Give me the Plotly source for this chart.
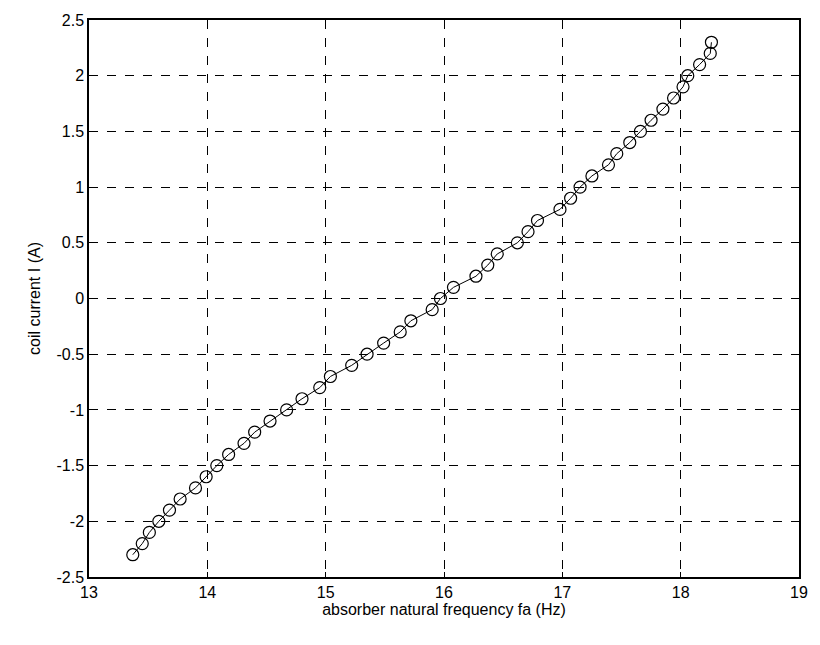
import plotly.graph_objects as go

coil_current = [-2.3, -2.2, -2.1, -2.0, -1.9, -1.8, -1.7, -1.6, -1.5, -1.4, -1.3, -1.2,
                -1.1, -1.0, -0.9, -0.8, -0.7, -0.6, -0.5, -0.4, -0.3, -0.2, -0.1, 0.0,
                0.1, 0.2, 0.3, 0.4, 0.5, 0.6, 0.7, 0.8, 0.9, 1.0, 1.1, 1.2, 1.3, 1.4,
                1.5, 1.6, 1.7, 1.8, 1.9, 2.0, 2.1, 2.2, 2.3]
frequency = [13.37, 13.45, 13.51, 13.59, 13.68, 13.77, 13.90, 13.99, 14.08, 14.18, 14.31, 14.40,
             14.53, 14.67, 14.80, 14.95, 15.04, 15.22, 15.35, 15.49, 15.63, 15.72, 15.90, 15.97,
             16.08, 16.27, 16.37, 16.45, 16.62, 16.71, 16.79, 16.98, 17.07, 17.15, 17.25, 17.39, 17.46, 17.57,
             17.66, 17.75, 17.85, 17.94, 18.02, 18.06, 18.16, 18.25, 18.26]

x_ticks = [13, 14, 15, 16, 17, 18, 19]
y_ticks = [-2.5, -2, -1.5, -1, -0.5, 0, 0.5, 1, 1.5, 2, 2.5]
y_ticklabels = ["-2.5", "-2", "-1.5", "-1", "-0.5", "0", "0.5", "1", "1.5", "2", "2.5"]

fig = go.Figure()
fig.add_trace(go.Scatter(
    x=frequency, y=coil_current, mode="lines+markers",
    line=dict(color="black", width=1),
    marker=dict(symbol="circle-open", size=12, color="black", line=dict(width=1.2)),
    showlegend=False,
))

axis_common = dict(
    showline=True, linecolor="black", linewidth=1.5, mirror=True,
    ticks="inside", ticklen=5, tickcolor="black",
    showgrid=True, gridcolor="black", gridwidth=1, griddash="dash",
    zeroline=False,
    tickfont=dict(family="Liberation Sans, Arial", size=16, color="black"),
)

fig.update_layout(
    width=820, height=645,
    margin=dict(l=89, r=13, t=17, b=68),
    paper_bgcolor="white", plot_bgcolor="white",
    font=dict(family="Liberation Sans, Arial", color="black"),
    xaxis=dict(range=[13, 19], tickvals=x_ticks,
               title=dict(text="absorber natural frequency fa (Hz)", font=dict(size=16), standoff=4),
               **axis_common),
    yaxis=dict(range=[-2.5, 2.5], tickvals=y_ticks, ticktext=y_ticklabels,
               title=dict(text="coil current I (A)", font=dict(size=16), standoff=12),
               **axis_common),
)

fig.write_html("out.html")
